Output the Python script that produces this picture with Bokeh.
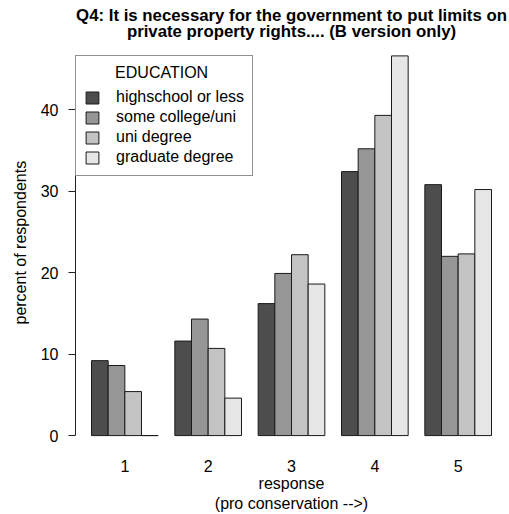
from bokeh.plotting import figure
from bokeh.models import (Range1d, FixedTicker, Legend, LegendItem, Title, Label,
                          ColumnDataSource)
from bokeh.embed import file_html
from bokeh.resources import INLINE

# Survey responses (percent of respondents) by education level
responses = ["1", "2", "3", "4", "5"]
education_levels = ["highschool or less", "some college/uni", "uni degree", "graduate degree"]
highschool_or_less = [9.2, 11.6, 16.2, 32.4, 30.8]
some_college_uni = [8.6, 14.3, 19.9, 35.2, 22.0]
uni_degree = [5.4, 10.7, 22.2, 39.3, 22.3]
graduate_degree = [0.0, 4.6, 18.6, 46.6, 30.2]
y_ticks = [0, 10, 20, 30, 40]
title_lines = ["Q4: It is necessary for the government to put limits on",
               "private property rights.... (B version only)"]

series = [highschool_or_less, some_college_uni, uni_degree, graduate_degree]
fills = ["#4D4D4D", "#969696", "#C3C3C3", "#E6E6E6"]
FONT = "Liberation Sans"

# grouped bar layout: each bar is one unit wide, one unit of space before each group
n_series = len(series)
group_width = n_series + 1
group_centers = [g * group_width + 1 + n_series / 2 for g in range(len(responses))]
x_lo = 1
x_hi = len(responses) * group_width
pad = 0.04 * (x_hi - x_lo)
x_mid = (x_lo + x_hi) / 2

# the plotting area runs up to the top edge so the title can sit inside it
p = figure(width=509, height=514, title=None,
           x_range=Range1d(x_lo - pad, x_hi + pad),
           y_range=Range1d(-1.83, 53.4),
           output_backend="svg", toolbar_location=None,
           min_border_left=75, min_border_right=2,
           min_border_top=0, min_border_bottom=62)
p.outline_line_color = None
p.xgrid.visible = False
p.ygrid.visible = False
p.background_fill_color = "white"
p.border_fill_color = "white"

legend_items = []
for k, (vals, name, col) in enumerate(zip(series, education_levels, fills)):
    xs = [g * group_width + 1.5 + k for g in range(len(responses))]
    src = ColumnDataSource(dict(x=xs, top=vals, resp=responses))
    r = p.vbar(x="x", top="top", bottom=0, width=1.0, source=src,
               fill_color=col, line_color="#1a1a1a", line_width=1)
    legend_items.append(LegendItem(label=name, renderers=[r]))

# y axis
yax = p.yaxis[0]
yax.ticker = FixedTicker(ticks=y_ticks)
yax.bounds = (y_ticks[0], y_ticks[-1])
yax.minor_tick_line_color = None
yax.major_tick_in = 0
yax.major_tick_out = 7
yax.major_label_standoff = 10
yax.axis_line_color = "#222222"
yax.major_tick_line_color = "#222222"
yax.major_label_text_font = FONT
yax.major_label_text_font_size = "16px"
yax.major_label_text_color = "black"

# y axis title in the left margin, raised from the bottom of the plotting area
p.add_layout(Title(text="percent of respondents", align="left", offset=126,
                   text_font=FONT, text_font_size="16px", text_font_style="normal",
                   text_color="black", standoff=17), "left")

# x axis: response categories under each group
xax = p.xaxis[0]
xax.ticker = FixedTicker(ticks=group_centers)
xax.major_label_overrides = {c: lab for c, lab in zip(group_centers, responses)}
xax.axis_line_color = None
xax.major_tick_line_color = None
xax.minor_tick_line_color = None
xax.major_tick_out = 0
xax.major_tick_in = 0
xax.major_label_standoff = 9
xax.major_label_text_font = FONT
xax.major_label_text_font_size = "16px"
xax.major_label_text_color = "black"
xax.axis_label = "response\n(pro conservation -->)"
xax.axis_label_text_font = FONT
xax.axis_label_text_font_size = "16px"
xax.axis_label_text_font_style = "normal"
xax.axis_label_text_color = "black"
xax.axis_label_standoff = 0

# two-line bold title, each line centred over the bars
for line, y in zip(title_lines, [51.5, 49.65]):
    p.add_layout(Label(x=x_mid, y=y, text=line, text_align="center",
                       text_baseline="middle", text_font=FONT,
                       text_font_size="16.8px", text_font_style="bold",
                       text_color="black"))

# legend box: bottom-left corner given in pixels above the bottom of the plotting area
legend = Legend(items=legend_items, location=(0, 274),
                title="\u00a0" * 7 + "EDUCATION",
                title_text_font=FONT, title_text_font_size="16px",
                title_text_font_style="normal", title_text_color="black",
                title_standoff=5,
                label_text_font=FONT, label_text_font_size="16px", label_text_color="black",
                glyph_width=16, glyph_height=15, label_standoff=16,
                label_height=20, spacing=0, padding=8, margin=0,
                border_line_color="#222222", border_line_width=1,
                background_fill_color="white", background_fill_alpha=1.0)
p.add_layout(legend)

open("out.html", "w").write(file_html(p, INLINE))
